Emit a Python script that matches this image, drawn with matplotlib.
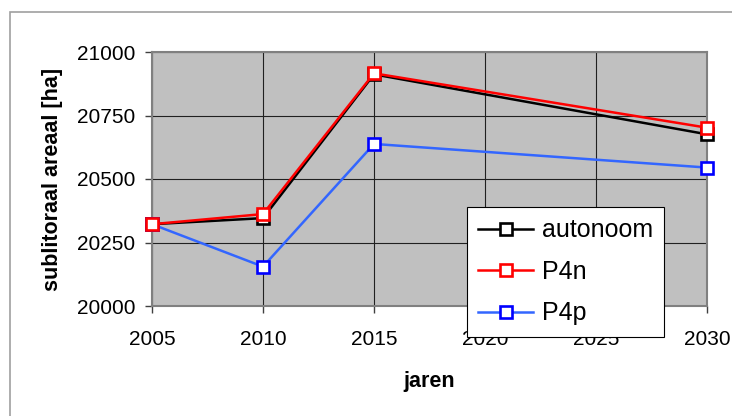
import matplotlib
matplotlib.use("Agg")
import matplotlib.pyplot as plt
from matplotlib.patches import Rectangle

years = [2005, 2010, 2015, 2030]
autonoom = [20322, 20346, 20912, 20676]
p4n = [20322, 20362, 20916, 20702]
p4p = [20322, 20155, 20638, 20545]
xticks = [2005, 2010, 2015, 2020, 2025, 2030]
yticks = [20000, 20250, 20500, 20750, 21000]

plt.rcParams['font.family'] = ['Liberation Sans', 'DejaVu Sans']

W, H = 732, 416
fig = plt.figure(figsize=(W / 100, H / 100), dpi=100)
fig.patch.set_facecolor('white')

# outer chart frame
fig.add_artist(Rectangle((10 / W, -0.1), 1.2, 1 - 12 / H + 0.1, transform=fig.transFigure,
                         fill=False, edgecolor='#a0a0a0', linewidth=1.2))

ax = fig.add_axes([152 / W, 1 - 306 / H, (707 - 152) / W, (306 - 52) / H])
ax.set_facecolor('#c0c0c0')
ax.set_xlim(2005, 2030)
ax.set_ylim(20000, 21000)
ax.set_xticks(xticks)
ax.set_yticks(yticks)
ax.grid(True, color='#202020', linewidth=0.8)
ax.set_axisbelow(True)
for s in ax.spines.values():
    s.set_color('#808080')
    s.set_linewidth(1.5)
ax.tick_params(axis='both', direction='out', length=5, width=1, color='#404040',
               labelsize=15)
ax.tick_params(axis='y', pad=7)
ax.tick_params(axis='x', pad=12)

ax.plot(years, autonoom, color='black', lw=1.8, marker='s', ms=8.5, mfc='white',
        mec='black', mew=1.9, label='autonoom', clip_on=False, zorder=3)
ax.plot(years, p4n, color='#ff0000', lw=1.8, marker='s', ms=8.5, mfc='white',
        mec='#ff0000', mew=1.9, label='P4n', clip_on=False, zorder=4)
ax.plot(years, p4p, color='#3366ff', lw=1.8, marker='s', ms=8.5, mfc='white',
        mec='#0000ff', mew=1.9, label='P4p', clip_on=False, zorder=3)

ax.set_xlabel('jaren', fontsize=15.5, fontweight='bold', labelpad=16)
ax.set_ylabel('sublitoraal areaal [ha]', fontsize=15.5, fontweight='bold', labelpad=10)

leg = ax.legend(loc='upper left', bbox_to_anchor=(467 / W, 1 - 207 / H),
                bbox_transform=fig.transFigure, fontsize=18, fancybox=False,
                framealpha=1, edgecolor='black', handlelength=2.2, handletextpad=0.35,
                labelspacing=0.7, borderpad=0.45, borderaxespad=0)
leg.get_frame().set_linewidth(0.8)
leg.set_zorder(10)

fig.savefig('out.png', dpi=100)
